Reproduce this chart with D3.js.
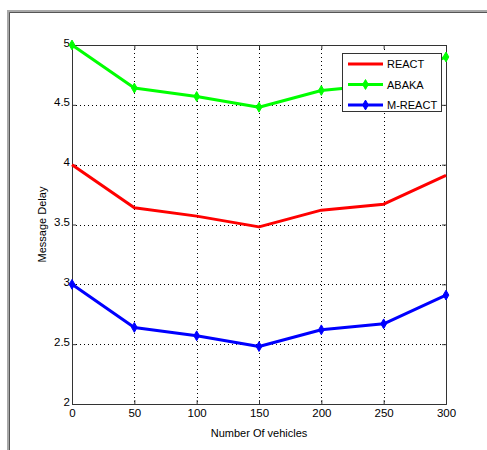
<!DOCTYPE html>
<html>
<head>
<meta charset="utf-8">
<script src="https://cdn.jsdelivr.net/npm/d3@7"></script>
<style>
  body { margin: 0; background: #fff; }
  svg text { font-family: "Liberation Sans", Arial, sans-serif; font-size: 11px; fill: #000; }
</style>
</head>
<body>
<div class="chart"></div>
<script>
// data
var vehicles = [0, 50, 100, 150, 200, 250, 300];
var react  = [4.00, 3.64, 3.57, 3.48, 3.62, 3.67, 3.91];
var abaka  = [5.00, 4.64, 4.57, 4.48, 4.62, 4.67, 4.90];
var mreact = [3.00, 2.64, 2.57, 2.48, 2.62, 2.67, 2.91];
var xTicks = [0, 50, 100, 150, 200, 250, 300];
var yTicks = [2, 2.5, 3, 3.5, 4, 4.5, 5];

var series = [
  {name: "REACT",   values: react,  color: "#ff0000", marker: false},
  {name: "ABAKA",   values: abaka,  color: "#00ff00", marker: true},
  {name: "M-REACT", values: mreact, color: "#0000ff", marker: true}
];

var W = 487, H = 450;
var margin = {top: 45, right: 41, bottom: 46, left: 72},
    width = W - margin.left - margin.right,
    height = H - margin.top - margin.bottom;

var svg = d3.select(".chart").append("svg")
    .attr("width", W)
    .attr("height", H);

// window frame (left and top edges)
svg.append("path")
    .attr("d", "M8.5,450V11.5H487")
    .attr("fill", "none").attr("stroke", "#a8a8a8").attr("stroke-width", 3);
svg.append("path")
    .attr("d", "M9.5,450V12.5H487")
    .attr("fill", "none").attr("stroke", "#555").attr("stroke-width", 1);

var x = d3.scaleLinear().domain([0, 300]).range([0, width]);
var y = d3.scaleLinear().domain([2, 5]).range([height, 0]);

var g = svg.append("g")
    .attr("transform", "translate(" + margin.left + "," + margin.top + ")");

// dotted grid
g.append("g").selectAll("line")
    .data(xTicks.slice(1, -1))
  .enter().append("line")
    .attr("x1", function(d) { return Math.round(x(d)) + 0.5; })
    .attr("x2", function(d) { return Math.round(x(d)) + 0.5; })
    .attr("y1", 0).attr("y2", height)
    .attr("stroke", "#000").attr("stroke-width", 1)
    .attr("stroke-dasharray", "1,3");
g.append("g").selectAll("line")
    .data(yTicks.slice(1, -1))
  .enter().append("line")
    .attr("y1", function(d) { return Math.round(y(d)) + 0.5; })
    .attr("y2", function(d) { return Math.round(y(d)) + 0.5; })
    .attr("x1", 0).attr("x2", width)
    .attr("stroke", "#000").attr("stroke-width", 1)
    .attr("stroke-dasharray", "1,3");

// axes, matlab style: ticks inward, box around
var xAxis = d3.axisBottom(x).tickValues(xTicks).tickSize(-4).tickPadding(8).tickFormat(d3.format("d"));
var yAxis = d3.axisLeft(y).tickValues(yTicks).tickSize(-4).tickPadding(2)
    .tickFormat(function(d) { return String(d); });

var xg = g.append("g").attr("transform", "translate(0," + height + ")").call(xAxis);
var yg = g.append("g").call(yAxis);
g.append("g").call(d3.axisTop(x).tickValues(xTicks).tickSize(-4).tickFormat(""));
g.append("g").attr("transform", "translate(" + width + ",0)")
    .call(d3.axisRight(y).tickValues(yTicks).tickSize(-4).tickFormat(""));

g.selectAll(".domain").attr("stroke", "#333");
g.selectAll(".tick line").attr("stroke", "#333");
g.selectAll(".tick text").style("font-size", "11.5px").style("font-family", "Liberation Sans, Arial, sans-serif");
xg.selectAll(".tick text").attr("dy", "0.4em");
yg.selectAll(".tick text").attr("dy", "0.1em");

// axis labels
svg.append("text")
    .attr("x", margin.left + width / 2)
    .attr("y", 437)
    .style("text-anchor", "middle")
    .text("Number Of vehicles");
svg.append("text")
    .attr("transform", "translate(46," + (margin.top + height / 2) + ")rotate(-90)")
    .style("text-anchor", "middle")
    .text("Message Delay");

// lines
var line = d3.line()
    .x(function(d, i) { return x(vehicles[i]); })
    .y(function(d) { return y(d); });

var diamond = d3.symbol().type(d3.symbolDiamond).size(28);

series.forEach(function(s) {
  g.append("path")
      .datum(s.values)
      .attr("d", line)
      .attr("fill", "none")
      .attr("stroke", s.color)
      .attr("stroke-width", 3)
      .attr("stroke-linejoin", "round");
  if (s.marker) {
    g.selectAll(null)
        .data(s.values)
      .enter().append("path")
        .attr("d", diamond)
        .attr("transform", function(d, i) { return "translate(" + x(vehicles[i]) + "," + y(d) + ")"; })
        .attr("fill", s.color)
        .attr("stroke", s.color)
        .attr("stroke-width", 1);
  }
});

// legend
var legend = svg.append("g").attr("transform", "translate(342,53)");
legend.append("rect")
    .attr("x", 0.5).attr("y", 0.5)
    .attr("width", 99).attr("height", 58)
    .attr("fill", "#fff").attr("stroke", "#333");
series.forEach(function(s, i) {
  var ly = 11 + i * 20.5;
  legend.append("line")
      .attr("x1", 6).attr("x2", 41)
      .attr("y1", ly).attr("y2", ly)
      .attr("stroke", s.color).attr("stroke-width", 3);
  if (s.marker) {
    legend.append("path")
        .attr("d", diamond)
        .attr("transform", "translate(23.5," + ly + ")")
        .attr("fill", s.color).attr("stroke", s.color);
  }
  legend.append("text")
      .attr("x", 45).attr("y", ly + 4)
      .text(s.name);
});
</script>
</body>
</html>
